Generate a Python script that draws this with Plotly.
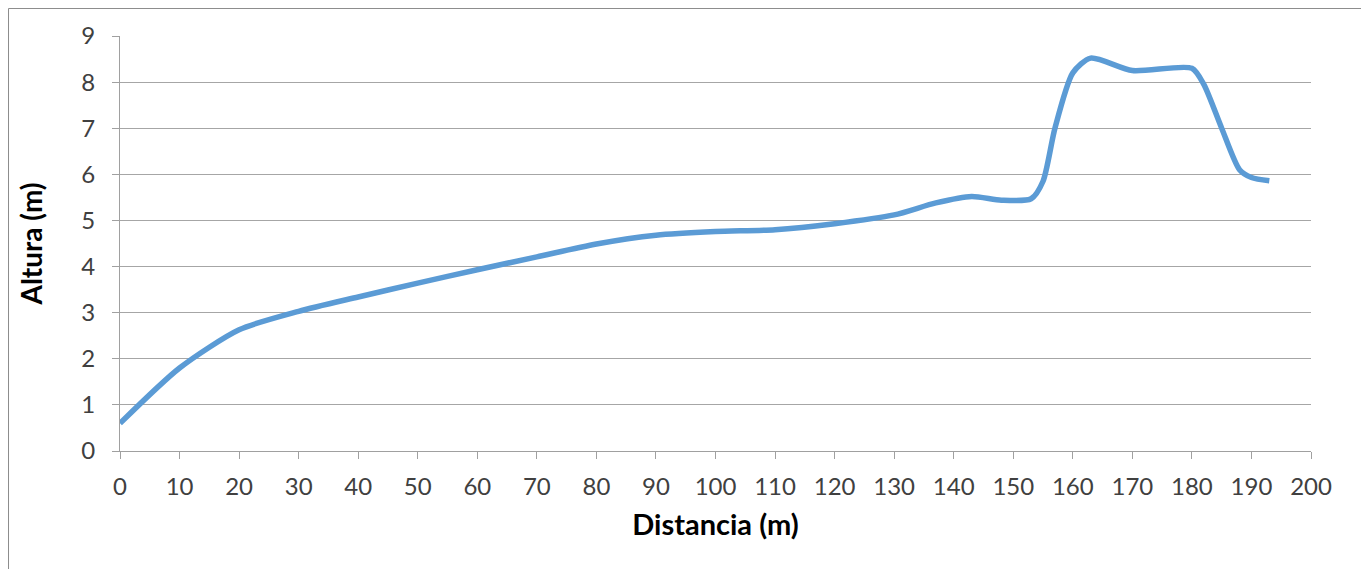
import plotly.graph_objects as go

distancia = [0, 10, 20, 30, 40, 50, 60, 70, 80, 90, 100, 110, 120, 130, 137, 143, 148, 153, 155, 157, 160, 163, 170, 180, 182, 185, 188, 190, 193]
altura = [0.6, 1.8, 2.63, 3.03, 3.34, 3.64, 3.93, 4.21, 4.49, 4.68, 4.76, 4.8, 4.93, 5.12, 5.38, 5.52, 5.44, 5.47, 5.85, 7.0, 8.2, 8.52, 8.25, 8.3, 7.95, 7.0, 6.1, 5.93, 5.86]

x_ticks = list(range(0, 201, 10))
y_ticks = list(range(0, 10))

FONT = "Lato"
fig = go.Figure()
fig.add_trace(go.Scatter(
    x=distancia, y=altura, mode="lines",
    line=dict(color="#5B9BD5", width=5.5, shape="spline", smoothing=0.7),
    showlegend=False, hoverinfo="skip",
))

fig.update_layout(
    width=1369, height=569,
    margin=dict(l=112, r=66, t=28, b=126),
    paper_bgcolor="white", plot_bgcolor="white",
    font=dict(family=FONT, color="#404040", size=24),
    xaxis=dict(
        range=[0, 200], tickvals=x_ticks, ticktext=[str(v) for v in x_ticks],
        showgrid=False, zeroline=False,
        showline=True, linecolor="#a0a0a0", linewidth=1,
        ticks="outside", ticklen=7, tickcolor="#a0a0a0", tickwidth=1,
        tickfont=dict(family=FONT, size=24, color="#404040"),
        ticklabelstandoff=7,
        title=dict(text="<b>Distancia (m)</b>", font=dict(family=FONT, size=29, color="#000000"), standoff=15),
    ),
    yaxis=dict(
        range=[0, 9], tickvals=y_ticks, ticktext=[str(v) for v in y_ticks],
        showgrid=True, gridcolor="#a6a6a6", gridwidth=1, zeroline=False,
        showline=True, linecolor="#a0a0a0", linewidth=1,
        ticks="outside", ticklen=7, tickcolor="#a0a0a0", tickwidth=1,
        tickfont=dict(family=FONT, size=24, color="#404040"),
        ticklabelstandoff=12,
        title=dict(text="<b>Altura (m)</b>", font=dict(family=FONT, size=28, color="#000000"), standoff=30),
    ),
    shapes=[dict(
        type="rect", xref="paper", yref="paper",
        x0=-0.0936, x1=1.0428, y0=-0.31, y1=1.0663,
        line=dict(color="#8c8c8c", width=1), fillcolor="rgba(0,0,0,0)", layer="above",
    )],
)

fig.write_html("out.html")
